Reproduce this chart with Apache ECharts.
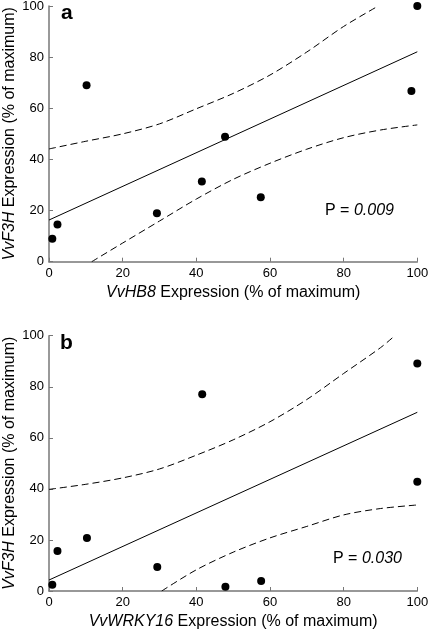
<!DOCTYPE html>
<html>
<head>
<meta charset="utf-8">
<script src="https://cdn.jsdelivr.net/npm/echarts@6/dist/echarts.min.js"></script>
<style>
html,body{margin:0;padding:0;background:#fff;}
#chart{width:430px;height:631px;}
</style>
</head>
<body>
<div id="chart"></div>
<script>
// ---- Panel a data ----
const aX = [0.9, 2.3, 10.2, 29.3, 41.5, 47.8, 57.5, 98.4, 100];
const aY = [9.0, 14.5, 69.0, 18.9, 31.4, 48.9, 25.2, 66.8, 100];
const aFitX = [0, 100];
const aFitY = [16.3, 82.1];
const aUpperX = [0, 10, 20, 30, 40, 50, 60, 70, 80, 89.4];
const aUpperY = [44.1, 47.1, 50.0, 53.9, 59.8, 65.8, 73.0, 82.0, 92.0, 100];
const aLowerX = [11.6, 20, 30, 40, 50, 60, 70, 80, 90, 100];
const aLowerY = [0, 7.3, 15.9, 24.5, 32.2, 38.5, 44.0, 48.5, 51.5, 53.5];
const aP = '0.009';

// ---- Panel b data ----
const bX = [0.9, 2.3, 10.3, 29.4, 41.6, 47.9, 57.6, 100, 100];
const bY = [2.4, 15.7, 20.8, 9.4, 77.1, 1.7, 3.9, 42.8, 89.1];
const bFitX = [0, 100];
const bFitY = [4.3, 70.0];
const bUpperX = [0, 10, 20, 30, 40, 50, 60, 70, 80, 90, 93.9];
const bUpperY = [39.8, 41.8, 44.3, 47.8, 53.2, 59.2, 66.3, 75.0, 85.2, 95.3, 100];
const bLowerX = [30.6, 40, 50, 60, 70, 80, 90, 100];
const bLowerY = [0, 8.3, 15.2, 20.8, 25.3, 29.8, 32.3, 33.7];
const bP = '0.030';

// ---- Axis ticks / labels ----
const axisMin = 0, axisMax = 100, axisStep = 20;
const xNames = ['{i|VvHB8} Expression (% of maximum)', '{i|VvWRKY16} Expression (% of maximum)'];
const yName = '{i|VvF3H} Expression (% of maximum)';
const panelLabels = ['a', 'b'];

const FONT = 'Liberation Sans, Arial, Helvetica, sans-serif';
const zip = (xs, ys) => xs.map((x, i) => [x, ys[i]]);

function makeX(idx) {
  return {
    gridIndex: idx, type: 'value', min: axisMin, max: axisMax, interval: axisStep,
    name: xNames[idx], nameLocation: 'middle', nameGap: 23, nameMoveOverlap: false,
    nameTextStyle: {fontSize: 16, color: '#000', fontFamily: FONT,
      rich: {i: {fontStyle: 'italic', fontSize: 16, color: '#000', fontFamily: FONT}}},
    axisLine: {lineStyle: {color: '#777', width: 1.5}},
    axisTick: {inside: true, length: 4, lineStyle: {color: '#777', width: 1}},
    axisLabel: {fontSize: 13, color: '#000', margin: 5, fontFamily: FONT},
    splitLine: {show: false}
  };
}
function makeY(idx) {
  return {
    gridIndex: idx, type: 'value', min: axisMin, max: axisMax, interval: axisStep,
    name: yName, nameLocation: 'middle', nameGap: 31, nameRotate: 90, nameMoveOverlap: false,
    nameTextStyle: {fontSize: 16, color: '#000', fontFamily: FONT,
      rich: {i: {fontStyle: 'italic', fontSize: 16, color: '#000', fontFamily: FONT}}},
    axisLine: {lineStyle: {color: '#777', width: 1.5}},
    axisTick: {inside: true, length: 4, lineStyle: {color: '#777', width: 1}},
    axisLabel: {fontSize: 13, color: '#000', margin: 5, fontFamily: FONT},
    splitLine: {show: false}
  };
}
function panelSeries(idx, sx, sy, fx, fy, ux, uy, lx, ly) {
  const dashed = {color: '#000', width: 1, type: [7, 4]};
  return [
    {type: 'line', xAxisIndex: idx, yAxisIndex: idx, data: zip(ux, uy), smooth: 0.3,
     showSymbol: false, lineStyle: dashed, silent: true},
    {type: 'line', xAxisIndex: idx, yAxisIndex: idx, data: zip(lx, ly), smooth: 0.3,
     showSymbol: false, lineStyle: dashed, silent: true},
    {type: 'line', xAxisIndex: idx, yAxisIndex: idx, data: zip(fx, fy),
     showSymbol: false, lineStyle: {color: '#000', width: 1}, silent: true},
    {type: 'scatter', xAxisIndex: idx, yAxisIndex: idx, data: zip(sx, sy),
     symbolSize: 8, itemStyle: {color: '#000', opacity: 1}, z: 5}
  ];
}

const chart = echarts.init(document.getElementById('chart'));
chart.setOption({
  animation: false,
  backgroundColor: '#fff',
  grid: [
    {left: 49, top: 6, width: 368.3, height: 255.7, containLabel: false, outerBoundsMode: 'none'},
    {left: 49, top: 335.7, width: 368.3, height: 255.3, containLabel: false, outerBoundsMode: 'none'}
  ],
  xAxis: [makeX(0), makeX(1)],
  yAxis: [makeY(0), makeY(1)],
  series: [].concat(
    panelSeries(0, aX, aY, aFitX, aFitY, aUpperX, aUpperY, aLowerX, aLowerY),
    panelSeries(1, bX, bY, bFitX, bFitY, bUpperX, bUpperY, bLowerX, bLowerY)
  ),
  graphic: [
    {type: 'text', left: 61, top: 3, style: {text: panelLabels[0], font: 'bold 21px ' + FONT, fill: '#000'}},
    {type: 'text', left: 60, top: 333, style: {text: panelLabels[1], font: 'bold 21px ' + FONT, fill: '#000'}},
    {type: 'text', left: 325, top: 203, style: {text: 'P = {i|' + aP + '}', font: '16px ' + FONT, fill: '#000',
      rich: {i: {fontStyle: 'italic', fontSize: 16, fontFamily: FONT, fill: '#000'}}}},
    {type: 'text', left: 333, top: 551, style: {text: 'P = {i|' + bP + '}', font: '16px ' + FONT, fill: '#000',
      rich: {i: {fontStyle: 'italic', fontSize: 16, fontFamily: FONT, fill: '#000'}}}}
  ]
});
</script>
</body>
</html>
